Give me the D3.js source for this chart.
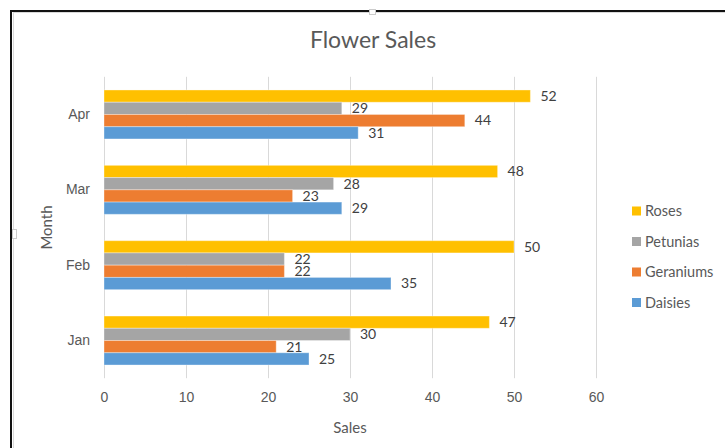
<!DOCTYPE html>
<html>
<head>
<meta charset="utf-8">
<script src="https://cdn.jsdelivr.net/npm/d3@7"></script>
<style>
  body { margin: 0; background: #fff; }
  svg { display: block; font-family: Lato, "Open Sans", sans-serif; }
</style>
</head>
<body>
<div id="chart"></div>
<script>
const months = ["Apr", "Mar", "Feb", "Jan"];
const series = ["Roses", "Petunias", "Geraniums", "Daisies"];
const roses = [52, 48, 50, 47];
const petunias = [29, 28, 22, 30];
const geraniums = [44, 23, 22, 21];
const daisies = [31, 29, 35, 25];
const xTicks = [0, 10, 20, 30, 40, 50, 60];
const colors = ["#ffc000", "#a5a5a5", "#ed7d31", "#5b9bd5"];

const values = { Roses: roses, Petunias: petunias, Geraniums: geraniums, Daisies: daisies };

const width = 725, height = 448;
const svg = d3.select("#chart").append("svg")
  .attr("width", width).attr("height", height);

// frame (window edge + chart border)
svg.append("rect").attr("x", 13.5).attr("y", 12.5)
  .attr("width", width).attr("height", height)
  .attr("fill", "none").attr("stroke", "#d9d9d9");
svg.append("path").attr("d", `M11,${height} V11 H${width}`)
  .attr("fill", "none").attr("stroke", "#111").attr("stroke-width", 2);
svg.append("rect").attr("x", 369.5).attr("y", 9.5).attr("width", 6).attr("height", 5)
  .attr("fill", "#fff").attr("stroke", "#ccc");
svg.append("rect").attr("x", 12.5).attr("y", 229.5).attr("width", 4).attr("height", 9)
  .attr("fill", "#fff").attr("stroke", "#ccc");

const x = d3.scaleLinear().domain([0, 60]).range([104, 596]);
const y = d3.scaleBand().domain(months).range([76.8, 378.2])
  .paddingInner(0.35).paddingOuter(0.175);
const ySub = d3.scaleBand().domain(series).range([0, y.bandwidth()]);
const color = d3.scaleOrdinal().domain(series).range(colors);

// title
svg.append("text").attr("x", 373).attr("y", 48)
  .attr("text-anchor", "middle").attr("fill", "#595959")
  .style("font-size", "23px").text("Flower Sales");

// gridlines + x axis
const xAxis = svg.append("g")
  .attr("transform", `translate(0,${y.range()[1]})`)
  .call(d3.axisBottom(x).tickValues(xTicks).tickSize(-(y.range()[1] - y.range()[0])).tickPadding(14));
xAxis.select(".domain").remove();
xAxis.selectAll("line").attr("stroke", "#d9d9d9");
xAxis.selectAll("text").attr("fill", "#595959").style("font-size", "14px");

// y axis labels
const yAxis = svg.append("g")
  .attr("transform", `translate(${x(0)},0)`)
  .call(d3.axisLeft(y).tickSize(0).tickPadding(14));
yAxis.select(".domain").remove();
yAxis.selectAll("text").attr("fill", "#595959").style("font-size", "14px");

// axis titles
svg.append("text").attr("x", x(30)).attr("y", 433)
  .attr("text-anchor", "middle").attr("fill", "#595959")
  .style("font-size", "15px").text("Sales");
svg.append("text")
  .attr("transform", `translate(52,${(y.range()[0] + y.range()[1]) / 2}) rotate(-90)`)
  .attr("text-anchor", "middle").attr("fill", "#595959")
  .style("font-size", "15px").text("Month");

// bars
const groups = svg.append("g").selectAll("g")
  .data(months)
  .join("g")
  .attr("transform", (d) => `translate(0,${y(d)})`);

const rows = groups.selectAll("g")
  .data((m, i) => series.map((s) => ({ month: m, key: s, value: values[s][i] })))
  .join("g");

rows.append("rect")
  .attr("x", x(0))
  .attr("y", (d) => ySub(d.key))
  .attr("width", (d) => x(d.value) - x(0))
  .attr("height", ySub.bandwidth())
  .attr("fill", (d) => color(d.key))
  .attr("stroke", "#fff").attr("stroke-opacity", 0.35).attr("stroke-width", 1);

rows.append("text")
  .attr("x", (d) => x(d.value) + 10)
  .attr("y", (d) => ySub(d.key) + ySub.bandwidth() / 2)
  .attr("dy", "0.35em")
  .attr("fill", "#404040")
  .style("font-size", "14px")
  .text((d) => d.value);

// legend
const legend = svg.append("g").selectAll("g")
  .data(series)
  .join("g")
  .attr("transform", (d, i) => `translate(632,${211 + i * 30.5})`);
legend.append("rect").attr("x", 0).attr("y", -4.5).attr("width", 9).attr("height", 9)
  .attr("fill", color);
legend.append("text").attr("x", 13).attr("dy", "0.35em")
  .attr("fill", "#595959").style("font-size", "14.5px").text((d) => d);
</script>
</body>
</html>
